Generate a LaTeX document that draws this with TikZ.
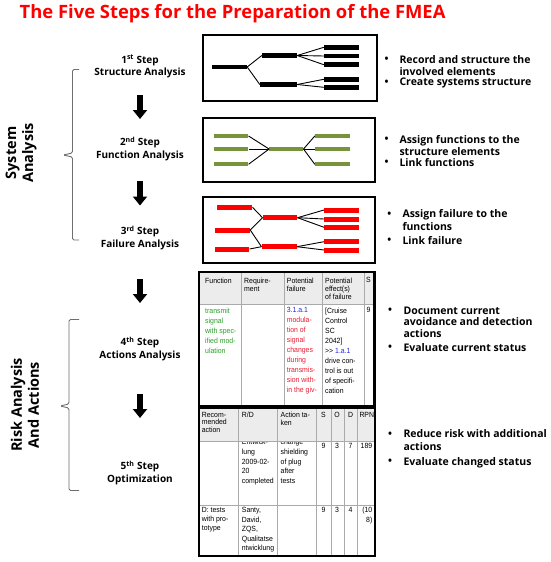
\documentclass[tikz,border=0pt]{standalone}
\usepackage{fontspec}
\setmainfont{Open Sans}
\newfontfamily\tabfont[FakeStretch=0.92]{Liberation Sans}
\usetikzlibrary{arrows.meta}
\definecolor{titlered}{RGB}{255,0,0}
\definecolor{barred}{RGB}{255,0,0}
\definecolor{bargreen}{RGB}{119,147,60}
\definecolor{txtgreen}{RGB}{40,160,40}
\definecolor{txtred}{RGB}{232,30,50}
\definecolor{txtblue}{RGB}{40,40,220}
\definecolor{gridgray}{RGB}{170,170,170}
\definecolor{headgray}{RGB}{236,236,236}
\definecolor{bracegray}{RGB}{110,110,110}
\begin{document}
\begin{tikzpicture}[x=1pt,y=-1pt,
  frame/.style={draw=black, line width=2pt},
  bar/.style={inner sep=0pt, minimum height=4.8pt, draw=none},
  link/.style={line width=0.9pt, draw=black},
  steplbl/.style={font=\fontsize{10}{12.7}\selectfont\bfseries, align=center, anchor=north, inner sep=0pt},
  btxt/.style={font=\fontsize{10.5}{11.8}\selectfont\bfseries, align=left, anchor=north west, inner sep=0pt},
  bdot/.style={font=\fontsize{10.5}{11.8}\selectfont\bfseries, inner sep=0pt},
  bigarrow/.style={line width=6pt, -{Triangle[width=14pt,length=9pt]}},
  brace/.style={draw=bracegray, line width=0.9pt, rounded corners=1.5pt},
  sidelbl/.style={font=\fontsize{14.5}{17}\selectfont\bfseries, align=center, rotate=90, inner sep=0pt},
  thead/.style={font=\tabfont\fontsize{7.5}{8.3}\selectfont, align=left, anchor=north west, inner sep=0pt},
  tbody/.style={font=\tabfont\fontsize{7.5}{10}\selectfont, align=left, anchor=north west, inner sep=0pt},
  tbodyb/.style={font=\tabfont\fontsize{7.5}{9.6}\selectfont, align=left, anchor=north west, inner sep=0pt},
  grid/.style={draw=gridgray, line width=0.6pt},
  tframe/.style={draw=black, line width=2.2pt}
]
\useasboundingbox (0,0) rectangle (551,562);
\fill[white] (0,0) rectangle (551,562);

% Title
\node[anchor=west, inner sep=0pt, text=titlered, font=\fontsize{18.4}{21}\selectfont\bfseries] (title) at (19.5,13.5) {The Five Steps for the Preparation of the FMEA};

% Side labels and braces
\node[sidelbl] (sys) at (21,153) {System\\Analysis};
\node[sidelbl] (risk) at (25,405) {Risk Analysis\\And Actions};
\draw[brace] (79,69.5) -- (72.5,69.5) -- (72.5,153) -- (63,155) -- (72.5,157) -- (72.5,240) -- (79,240);
\draw[brace] (79,319.5) -- (69,319.5) -- (69,404) -- (60,406) -- (69,408) -- (69,490.5) -- (79,490.5);

% Step labels
\node[steplbl] (st1) at (140,54.8) {1\textsuperscript{st} Step\\Structure Analysis};
\node[steplbl] (st2) at (140,136.5) {2\textsuperscript{nd} Step\\Function Analysis};
\node[steplbl] (st3) at (140,225.5) {3\textsuperscript{rd} Step\\Failure Analysis};
\node[steplbl] (st4) at (140,336.5) {4\textsuperscript{th} Step\\Actions Analysis};
\node[steplbl] (st5) at (140,460.5) {5\textsuperscript{th} Step\\Optimization};

% Arrows
\coordinate (a1s) at (140,95);  \coordinate (a1e) at (140,119);
\coordinate (a2s) at (140,181); \coordinate (a2e) at (140,205.5);
\coordinate (a3s) at (140,279); \coordinate (a3e) at (140,303);
\coordinate (a4s) at (140,394); \coordinate (a4e) at (140,418);
\draw[bigarrow] (a1s) -- (a1e);
\draw[bigarrow] (a2s) -- (a2e);
\draw[bigarrow] (a3s) -- (a3e);
\draw[bigarrow] (a4s) -- (a4e);

% Box 1: structure
\node[frame, minimum width=174pt, minimum height=66pt, inner sep=0pt] (box1) at (290,68) {};
\node[bar, fill=black, minimum width=35pt] (sRoot) at (229.5,67) {};
\node[bar, fill=black, minimum width=35pt] (sU) at (279.5,55.5) {};
\node[bar, fill=black, minimum width=37pt] (sL) at (278.5,84.5) {};
\node[bar, fill=black, minimum width=35pt] (sR1) at (341.5,47.3) {};
\node[bar, fill=black, minimum width=35pt] (sR2) at (341.5,56) {};
\node[bar, fill=black, minimum width=35pt] (sR3) at (341.5,64.7) {};
\node[bar, fill=black, minimum width=35pt] (sR4) at (341.5,79.3) {};
\node[bar, fill=black, minimum width=35pt] (sR5) at (341.5,87.3) {};
\draw[link] (sRoot.east) -- (sU.west);
\draw[link] (sRoot.east) -- (sL.west);
\draw[link] (sU.east) -- (sR1.west);
\draw[link] (sU.east) -- (sR2.west);
\draw[link] (sU.east) -- (sR3.west);
\draw[link] (sL.east) -- (sR4.west);
\draw[link] (sL.east) -- (sR5.west);

% Box 2: function
\node[frame, minimum width=172pt, minimum height=64pt, inner sep=0pt] (box2) at (289,150) {};
\node[bar, fill=bargreen, minimum width=34.3pt, minimum height=4pt] (gL1) at (231.2,136) {};
\node[bar, fill=bargreen, minimum width=34.3pt, minimum height=4pt] (gL2) at (231.2,149) {};
\node[bar, fill=bargreen, minimum width=34.3pt, minimum height=4pt] (gL3) at (231.2,164.3) {};
\node[bar, fill=bargreen, minimum width=34pt, minimum height=4pt] (gC) at (286.3,149) {};
\node[bar, fill=bargreen, minimum width=35pt, minimum height=4pt] (gR1) at (332.5,136) {};
\node[bar, fill=bargreen, minimum width=35pt, minimum height=4pt] (gR2) at (332.5,149) {};
\node[bar, fill=bargreen, minimum width=35pt, minimum height=4pt] (gR3) at (332.5,164.3) {};
\draw[link] (gL1.east) -- (gC.west);
\draw[link] (gL2.east) -- (gC.west);
\draw[link] (gL3.east) -- (gC.west);
\draw[link] (gC.east) -- (gR1.west);
\draw[link] (gC.east) -- (gR2.west);
\draw[link] (gC.east) -- (gR3.west);

% Box 3: failure
\node[frame, minimum width=172pt, minimum height=66pt, inner sep=0pt] (box3) at (289,230) {};
\node[bar, fill=barred, minimum width=35pt, minimum height=5pt] (fL1) at (234.8,207.3) {};
\node[bar, fill=barred, minimum width=35pt, minimum height=5pt] (fL2) at (232.5,230) {};
\node[bar, fill=barred, minimum width=34.3pt, minimum height=5pt] (fL3) at (232.2,249) {};
\node[bar, fill=barred, minimum width=34.6pt, minimum height=5pt] (fM1) at (280,217.7) {};
\node[bar, fill=barred, minimum width=35pt, minimum height=5pt] (fM2) at (279.2,246.7) {};
\node[bar, fill=barred, minimum width=35pt, minimum height=5pt] (fR1) at (341.7,210) {};
\node[bar, fill=barred, minimum width=35pt, minimum height=5pt] (fR2) at (341.7,219) {};
\node[bar, fill=barred, minimum width=35pt, minimum height=5pt] (fR3) at (341.7,227.3) {};
\node[bar, fill=barred, minimum width=35pt, minimum height=5pt] (fR4) at (341.7,241.7) {};
\node[bar, fill=barred, minimum width=35pt, minimum height=5pt] (fR5) at (341.7,250) {};
\draw[link] (fL1.east) -- (fM1.west);
\draw[link] (fL2.east) -- (fM1.west);
\draw[link] (fL2.east) -- (fM2.west);
\draw[link] (fL3.east) -- (fM2.west);
\draw[link] (fM1.east) -- (fR1.west);
\draw[link] (fM1.east) -- (fR2.west);
\draw[link] (fM1.east) -- (fR3.west);
\draw[link] (fM2.east) -- (fR4.west);
\draw[link] (fM2.east) -- (fR5.west);

% Table 4
\fill[headgray] (199,272) rectangle (374.5,304);
\node[thead] (h4a) at (205,277.5) {Function};
\node[thead] (h4b) at (244,277.5) {Require-\\ment};
\node[thead] (h4c) at (286.7,277.5) {Potential\\failure};
\node[thead] (h4d) at (325,277.5) {Potential\\effect(s)\\of failure};
\node[thead] (h4e) at (366,277.5) {S};
\node[tbody, text=txtgreen] (c4a) at (205,307.5) {transmit\\signal\\with spec-\\ified mod-\\ulation};
\node[tbody, text=txtred] (c4c) at (286.7,307.5) {{\color{txtblue}3.1.a.1}\\modula-\\tion of\\signal\\changes\\during\\transmis-\\sion with-\\in the giv-};
\node[tbody] (c4d) at (325,307.5) {[Cruise\\Control\\SC\\2042]\\{>}{>} {\color{txtblue}1.a.1}\\drive con-\\trol is out\\of specifi-\\cation};
\node[tbody] (c4e) at (366.5,307.5) {9};
\draw[grid] (199,304) -- (374.5,304);
\foreach \xx in {241.7,284,322.4,364} { \draw[grid] (\xx,272) -- (\xx,406.3); }
\draw[tframe] (199,272) rectangle (374.5,406.3);

% Table 5 body (drawn first so the header hides the clipped tops)
\node[tbodyb] (r1b) at (241.7,439.3) {Entwick-\\lung\\2009-02-\\20\\completed};
\node[tbodyb] (r1c) at (280.5,439.3) {change\\shielding\\of plug\\after\\tests};
\node[tbody, anchor=north] (r1s) at (323.5,443) {9};
\node[tbody, anchor=north] (r1o) at (337,443) {3};
\node[tbody, anchor=north] (r1d) at (350.5,443) {7};
\node[tbody] (r1r) at (360.5,443) {189};
\node[tbody, font=\tabfont\fontsize{7.5}{9.2}\selectfont] (r2a) at (201.7,507.1) {D: tests\\with pro-\\totype};
\node[tbodyb] (r2b) at (241.7,507.1) {Santy,\\David,\\ZQS,\\Qualitatse\\ntwicklung};
\node[tbody, anchor=north] (r2s) at (323.5,507.3) {9};
\node[tbody, anchor=north] (r2o) at (337,507.3) {3};
\node[tbody, anchor=north] (r2d) at (350.5,507.3) {4};
\node[tbody, font=\tabfont\fontsize{7.5}{9.2}\selectfont, align=right, anchor=north east] (r2r) at (372.5,507.3) {(10\\8)};
\fill[headgray] (199,407.5) rectangle (375,441.3);
\node[thead, font=\tabfont\fontsize{7.5}{7.8}\selectfont] (h5a) at (201.7,411.7) {Recom-\\mended\\action};
\node[thead, font=\tabfont\fontsize{7.5}{7.8}\selectfont] (h5b) at (241.7,411.7) {R/D};
\node[thead, font=\tabfont\fontsize{7.5}{7.8}\selectfont] (h5c) at (280.5,411.7) {Action ta-\\ken};
\node[thead, anchor=north] (h5s) at (323.5,411.7) {S};
\node[thead, anchor=north] (h5o) at (337,411.7) {O};
\node[thead, anchor=north] (h5d) at (350.5,411.7) {D};
\node[thead] (h5r) at (359.3,411.7) {RPN};
\draw[grid] (199,441.3) -- (375,441.3);
\draw[grid] (199,505) -- (375,505);
\foreach \xx in {238.3,277,316.7,331,344.3,357.3} { \draw[grid] (\xx,407.5) -- (\xx,556); }
\draw[tframe] (199,407.5) rectangle (375,556);

% Bullet lists
\node[bdot] (d1a) at (386.7,60) {•};
\node[btxt] (t1a) at (399.3,55.3) {Record and structure the\\involved elements};
\node[bdot] (d1b) at (386.7,82.7) {•};
\node[btxt] (t1b) at (399.3,78) {Create systems structure};

\node[bdot] (d2a) at (386.7,140) {•};
\node[btxt] (t2a) at (399.3,135.3) {Assign functions to the\\structure elements};
\node[bdot] (d2b) at (386.7,162.7) {•};
\node[btxt] (t2b) at (399.3,158) {Link functions};

\node[bdot] (d3a) at (389.3,214.3) {•};
\node[btxt, font=\fontsize{10.5}{12.8}\selectfont\bfseries] (t3a) at (402.3,209.6) {Assign failure to the\\functions};
\node[bdot] (d3b) at (389.3,241) {•};
\node[btxt] (t3b) at (402.3,236.3) {Link failure};

\node[bdot] (d4a) at (390,311) {•};
\node[btxt] (t4a) at (403.3,306.3) {Document current\\avoidance and detection\\actions};
\node[bdot] (d4b) at (390,347.7) {•};
\node[btxt] (t4b) at (403.3,343) {Evaluate current status};

\node[bdot] (d5a) at (390,434.3) {•};
\node[btxt, font=\fontsize{10.5}{12.4}\selectfont\bfseries] (t5a) at (403.3,429.6) {Reduce risk with additional\\actions};
\node[bdot] (d5b) at (390,461.7) {•};
\node[btxt] (t5b) at (403.3,457) {Evaluate changed status};
\end{tikzpicture}
\end{document}
